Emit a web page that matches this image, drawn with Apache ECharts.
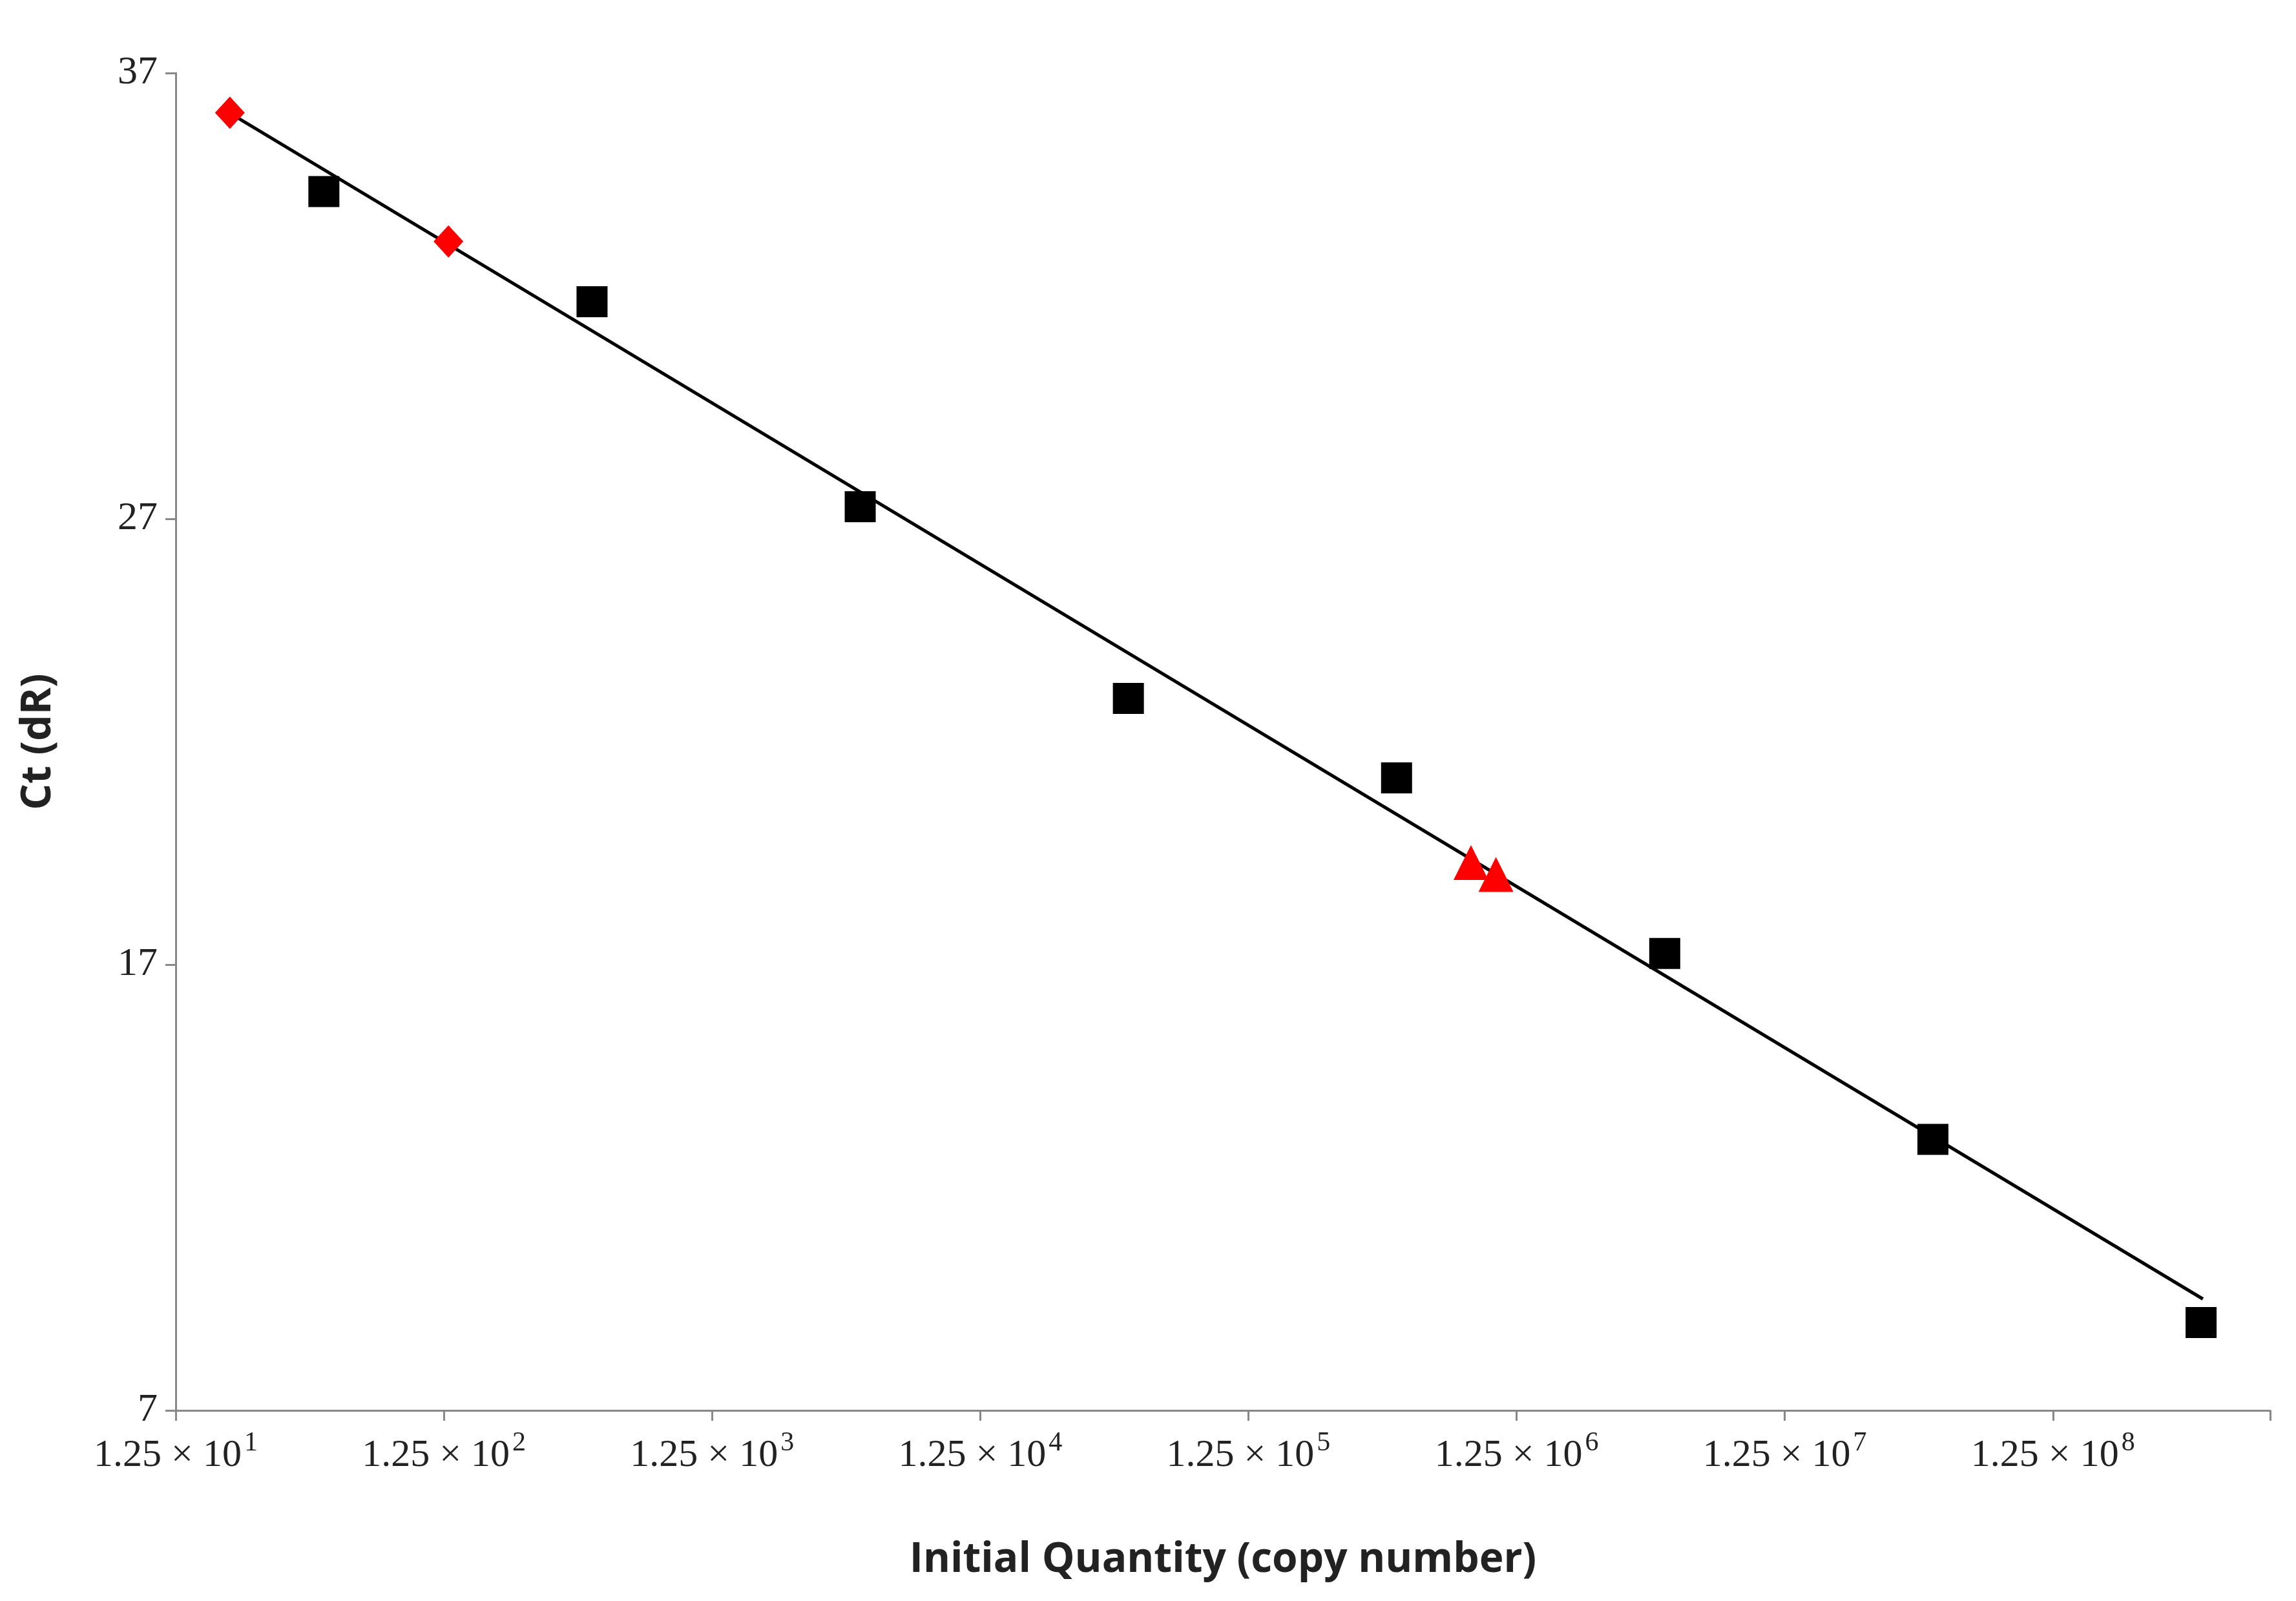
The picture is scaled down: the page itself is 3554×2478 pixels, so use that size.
<!DOCTYPE html>
<html><head><meta charset="utf-8">
<script src="https://cdn.jsdelivr.net/npm/echarts@6/dist/echarts.min.js"></script>
<style>html,body{margin:0;padding:0;background:#fff}#c{width:3554px;height:2478px}</style>
</head><body><div id="c"></div>
<script>
const base = 12.5;
const xTickExponents = [1,2,3,4,5,6,7,8];
const squareQty = [44.6, 446, 4460, 44600, 446000, 4460000, 44600000, 446000000];
const squareCt = [34.34, 31.87, 27.27, 22.97, 21.19, 17.25, 13.08, 8.97];
const diamondQty = [19.9, 130];
const diamondCt = [36.11, 33.22];
const triangleQty = [845000, 1047000];
const triangleCt = [19.29, 19.02];
const trendQty = [19.9, 453000000];
const trendCt = [36.1, 9.5];

const lx = q => Math.log10(q / base);
const pts = (qs, cs) => qs.map((q, i) => [lx(q), cs[i]]);

const chart = echarts.init(document.getElementById('c'));
chart.setOption({
  backgroundColor: '#fff',
  animation: false,
  grid: {left: 272, right: 40, top: 113, bottom: 295},
  xAxis: {
    type: 'value', min: 0, max: 7.81, interval: 1,
    name: 'Initial Quantity (copy number)', nameLocation: 'middle', nameGap: 200,
    nameTextStyle: {fontFamily: 'Open Sans', fontWeight: 'bold', fontSize: 64, color: '#222'},
    axisLine: {lineStyle: {color: '#888', width: 3}},
    axisTick: {show: true, length: 16, lineStyle: {color: '#888', width: 3}},
    splitLine: {show: false},
    axisLabel: {
      margin: 30,
      formatter: v => { const e = Math.round(v) + 1; return Math.abs(v - Math.round(v)) < 1e-6 && xTickExponents.includes(e) ? '{b|1.25 × 10}{s|' + e + '}' : ''; },
      rich: {
        b: {fontFamily: 'Liberation Serif', fontSize: 60, color: '#222', verticalAlign: 'bottom', lineHeight: 70},
        s: {fontFamily: 'Liberation Serif', fontSize: 42, color: '#222', verticalAlign: 'top', padding: [0, 0, 30, 4], lineHeight: 70}
      }
    }
  },
  yAxis: {
    type: 'value', min: 7, max: 37, interval: 10,
    name: 'Ct (dR)', nameLocation: 'middle', nameGap: 180,
    nameTextStyle: {fontFamily: 'Open Sans', fontWeight: 'bold', fontSize: 64, color: '#222'},
    axisLine: {show: true, lineStyle: {color: '#888', width: 3}},
    axisTick: {show: true, length: 16, lineStyle: {color: '#888', width: 3}},
    splitLine: {show: false},
    axisLabel: {fontFamily: 'Liberation Serif', fontSize: 62, color: '#222', margin: 28}
  },
  series: [
    {type: 'line', data: pts(trendQty, trendCt), symbol: 'none', lineStyle: {color: '#000', width: 5}, z: 1},
    {type: 'scatter', data: pts(squareQty, squareCt), symbol: 'rect', symbolSize: 48, itemStyle: {color: '#000', opacity: 1}, z: 3},
    {type: 'scatter', data: pts(diamondQty, diamondCt), symbol: 'diamond', symbolSize: [46, 50], itemStyle: {color: '#ff0000', opacity: 1}, z: 3},
    {type: 'scatter', data: pts(triangleQty, triangleCt), symbol: 'triangle', symbolSize: 54, itemStyle: {color: '#ff0000', opacity: 1}, z: 3}
  ]
});
</script></body></html>
